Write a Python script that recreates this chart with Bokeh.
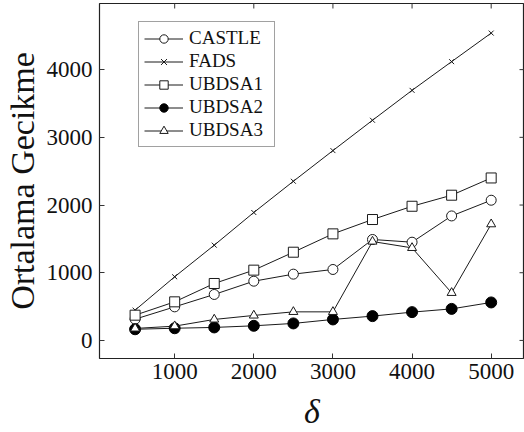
from bokeh.plotting import figure
from bokeh.models import Legend, LegendItem, FixedTicker, Range1d
from bokeh.embed import file_html
from bokeh.resources import INLINE
import numpy as np

delta = [500, 1000, 1500, 2000, 2500, 3000, 3500, 4000, 4500, 5000]
castle = [314, 496, 679, 875, 979, 1048, 1491, 1451, 1839, 2071]
fads = [447, 940, 1407, 1890, 2351, 2804, 3252, 3694, 4118, 4540]
ubdsa1 = [373, 570, 841, 1038, 1303, 1574, 1786, 1982, 2145, 2400]
ubdsa2 = [165, 180, 192, 216, 251, 310, 359, 418, 466, 561]
ubdsa3 = [177, 211, 310, 369, 422, 422, 1461, 1367, 703, 1717]
x_ticks = [1000, 2000, 3000, 4000, 5000]
y_ticks = [0, 1000, 2000, 3000, 4000]

FONT = "Liberation Serif"
LC = "#1a1a1a"
X0, X1, Y0, Y1 = 50, 5421, -267, 4977

p = figure(width=524, height=432, output_backend="svg", toolbar_location=None,
           x_range=Range1d(X0, X1), y_range=Range1d(Y0, Y1),
           min_border_left=0, min_border_right=0, min_border_top=3, min_border_bottom=0)
p.grid.visible = False
p.outline_line_color = "#222222"
p.outline_line_width = 1.2

for ax in [p.xaxis[0], p.yaxis[0]]:
    ax.major_tick_in = 5
    ax.major_tick_out = 0
    ax.minor_tick_in = 0
    ax.minor_tick_out = 0
    ax.axis_line_color = None
    ax.major_tick_line_color = "#333333"
    ax.major_label_text_font = FONT
    ax.major_label_text_font_size = "23px"
    ax.major_label_text_color = "#111111"
    ax.axis_label_text_font = FONT
    ax.axis_label_text_font_style = "normal"
    ax.axis_label_text_color = "#111111"

p.xaxis[0].ticker = FixedTicker(ticks=x_ticks)
p.yaxis[0].ticker = FixedTicker(ticks=y_ticks)
p.xaxis[0].axis_label = "δ"
p.xaxis[0].axis_label_text_font_style = "italic"
p.xaxis[0].axis_label_text_font_size = "34px"
p.xaxis[0].major_label_standoff = 5
p.xaxis[0].axis_label_standoff = 11
p.yaxis[0].axis_label = "Ortalama Gecikme"
p.yaxis[0].axis_label_text_font_size = "34px"
p.yaxis[0].major_label_standoff = 7
p.yaxis[0].axis_label_standoff = 3

# inward tick marks on the top and right frame edges (outer half clipped by frame)
p.scatter(x_ticks, [Y1] * len(x_ticks), marker="dash", size=10, angle=np.pi / 2,
          line_color="#333333", line_width=1)
p.scatter([X1] * len(y_ticks), y_ticks, marker="dash", size=10,
          line_color="#333333", line_width=1)

items = []
l1 = p.line(delta, castle, line_color=LC, line_width=1)
m1 = p.scatter(delta, castle, marker="circle", size=10, fill_color="white", line_color=LC, line_width=1)
items.append(LegendItem(label="CASTLE", renderers=[l1, m1]))
l2 = p.line(delta, fads, line_color=LC, line_width=1)
m2 = p.scatter(delta, fads, marker="x", size=7, line_color=LC, line_width=1)
items.append(LegendItem(label="FADS", renderers=[l2, m2]))
l3 = p.line(delta, ubdsa1, line_color=LC, line_width=1)
m3 = p.scatter(delta, ubdsa1, marker="square", size=10, fill_color="white", line_color=LC, line_width=1)
items.append(LegendItem(label="UBDSA1", renderers=[l3, m3]))
l4 = p.line(delta, ubdsa2, line_color=LC, line_width=1)
m4 = p.scatter(delta, ubdsa2, marker="circle", size=11, fill_color="black", line_color="black", line_width=1)
items.append(LegendItem(label="UBDSA2", renderers=[l4, m4]))
l5 = p.line(delta, ubdsa3, line_color=LC, line_width=1)
m5 = p.scatter(delta, ubdsa3, marker="triangle", size=9, fill_color="white", line_color=LC, line_width=1)
items.append(LegendItem(label="UBDSA3", renderers=[l5, m5]))

legend = Legend(items=items, location=(39, 211), padding=5, spacing=1,
                label_height=21, glyph_height=21, glyph_width=39, label_standoff=6,
                label_width=80,
                label_text_font=FONT, label_text_font_size="19px", label_text_color="#111111",
                border_line_color="#444444", border_line_width=1,
                background_fill_color="white", background_fill_alpha=1, margin=0)
p.add_layout(legend, "center")

open("out.html", "w").write(file_html(p, INLINE))
